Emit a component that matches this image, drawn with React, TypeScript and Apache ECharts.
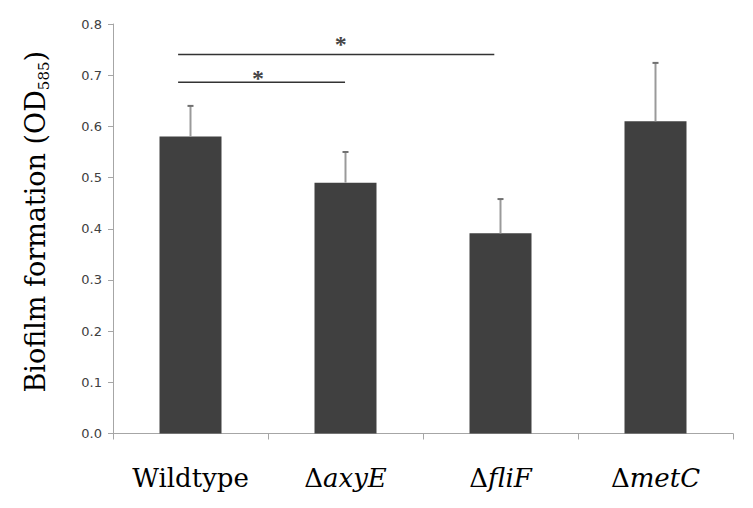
import React, { useEffect, useRef } from "react";
import * as echarts from "echarts";

const categories = ["Wildtype", "axyE", "fliF", "metC"];
const values = [0.58, 0.49, 0.391, 0.61];
const errors = [0.06, 0.06, 0.067, 0.114];
const yTicks = [0, 0.1, 0.2, 0.3, 0.4, 0.5, 0.6, 0.7, 0.8];
// significance brackets: [xStart, xEnd, y] in category units (0..4)
const sigLines = [
  [0.42, 2.46, 0.7405],
  [0.42, 1.497, 0.686],
];
const sigStars = [
  [1.47, 0.76],
  [0.935, 0.694],
];

export default function App() {
  const ref = useRef<HTMLDivElement>(null);
  useEffect(() => {
    const chart = echarts.init(ref.current!, undefined, { renderer: "svg" });
    const serif = "DejaVu Serif";
    chart.setOption({
      animation: false,
      backgroundColor: "#ffffff",
      grid: { left: 113, right: 20, top: 24, bottom: 74.5, containLabel: false },
      xAxis: [
        {
          type: "category",
          data: categories,
          boundaryGap: true,
          axisLine: { lineStyle: { color: "#a6a6a6", width: 1 } },
          axisTick: { show: true, length: 6, lineStyle: { color: "#a6a6a6" } },
          axisLabel: {
            margin: 31,
            formatter: (v: string) => (v === "Wildtype" ? "{n|Wildtype}" : "{n|Δ}{i|" + v + "}"),
            rich: {
              n: { fontFamily: serif, fontSize: 26, color: "#000" },
              i: { fontFamily: serif, fontSize: 26, fontStyle: "italic", color: "#000" },
            },
          },
        },
        { type: "value", min: 0, max: 4, show: false },
      ],
      yAxis: {
        type: "value",
        min: 0,
        max: 0.8,
        interval: 0.1,
        splitLine: { show: false },
        axisLine: { show: true, lineStyle: { color: "#a6a6a6", width: 1 } },
        axisTick: { show: true, length: 5, lineStyle: { color: "#a6a6a6" } },
        axisLabel: {
          margin: 11,
          fontFamily: "DejaVu Sans",
          fontSize: 13,
          color: "#404040",
          formatter: (v: number) => {
            const t = yTicks.find((k) => Math.abs(k - v) < 1e-6);
            return (t !== undefined ? t : v).toFixed(1);
          },
        },
        name: "{m|Biofilm formation (OD}{s|585}{m|)}",
        nameLocation: "middle",
        nameGap: 62,
        nameRotate: 90,
        nameTextStyle: {
          padding: [0, 0, 0, 14],
          rich: {
            m: { fontFamily: serif, fontSize: 27, color: "#000", lineHeight: 32, verticalAlign: "middle" },
            s: { fontFamily: serif, fontSize: 15, color: "#000", lineHeight: 15, verticalAlign: "bottom" },
          },
        },
      },
      series: [
        {
          type: "bar",
          data: values,
          barWidth: "40%",
          itemStyle: { color: "#404040" },
          z: 2,
        },
        {
          type: "custom",
          z: 3,
          data: categories.map((c, i) => [i, values[i], errors[i]]),
          renderItem: (params: any, api: any) => {
            const x = api.value(0);
            const v = api.value(1);
            const e = api.value(2);
            const p0 = api.coord([x, v]);
            const p1 = api.coord([x, v + e]);
            return {
              type: "group",
              children: [
                {
                  type: "line",
                  shape: { x1: p0[0], y1: p0[1], x2: p1[0], y2: p1[1] },
                  style: { stroke: "#9a9a9a", lineWidth: 2 },
                },
                {
                  type: "line",
                  shape: { x1: p1[0] - 3, y1: p1[1], x2: p1[0] + 3, y2: p1[1] },
                  style: { stroke: "#707070", lineWidth: 2 },
                },
              ],
            };
          },
        },
        ...sigLines.map((s) => ({
          type: "line",
          xAxisIndex: 1,
          data: [
            [s[0], s[2]],
            [s[1], s[2]],
          ],
          symbol: "none",
          lineStyle: { color: "#333333", width: 1.5 },
          z: 4,
        })),
        {
          type: "scatter",
          xAxisIndex: 1,
          data: sigStars,
          symbol: "circle",
          symbolSize: 1,
          itemStyle: { color: "rgba(0,0,0,0)" },
          label: {
            show: true,
            position: "inside",
            formatter: "*",
            fontFamily: "Liberation Serif",
            fontWeight: "bold",
            fontSize: 24,
            color: "#111",
          },
          z: 5,
        },
      ],
    });
    return () => chart.dispose();
  }, []);
  return <div ref={ref} style={{ width: 753, height: 508, position: "absolute", left: 0, top: 0 }} />;
}
